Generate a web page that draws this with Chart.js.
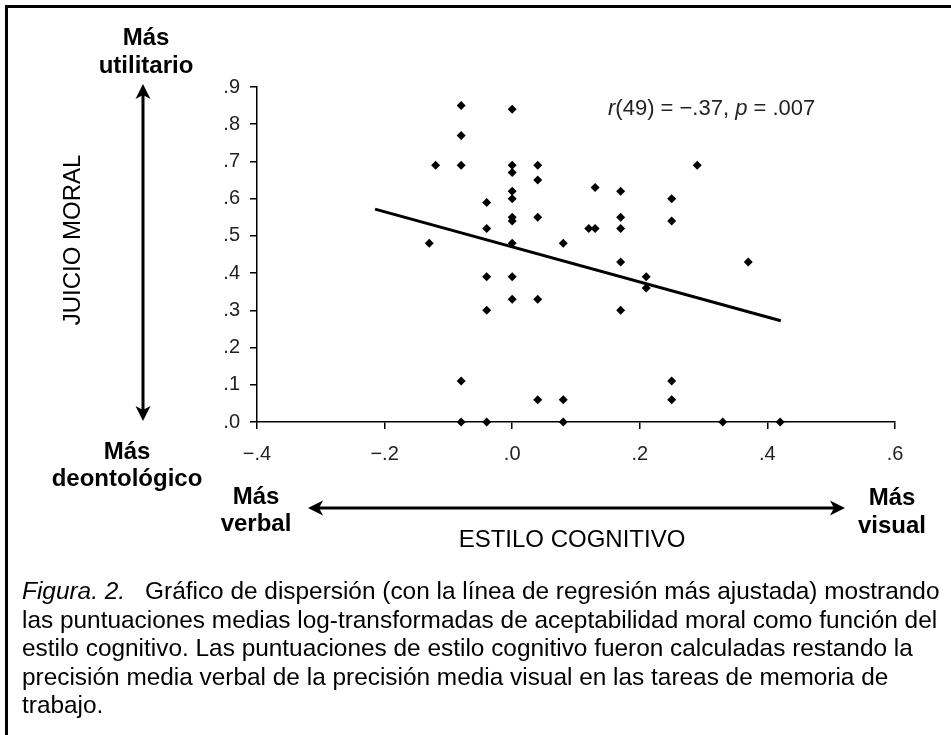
<!DOCTYPE html>
<html><head><meta charset="utf-8">
<script src="https://cdn.jsdelivr.net/npm/chart.js@4.4.0/dist/chart.umd.min.js"></script>
<style>
html,body{margin:0;padding:0;background:#fff;}
#wrap{position:relative;width:951px;height:735px;overflow:hidden;font-family:"Liberation Sans",Arial,sans-serif;color:#000;background:#fff;}
#chartBox{position:absolute;left:0;top:0;width:951px;height:735px;}
.t{position:absolute;white-space:nowrap;font-size:24px;}
.b{font-weight:bold;text-align:center;width:240px;}
</style></head>
<body>
<div id="wrap">
  <div id="chartBox"><canvas id="c"></canvas></div>
  <div style="position:absolute;left:5px;top:5px;width:960px;height:740px;border-left:3px solid #000;border-top:3px solid #000;"></div>
  <svg width="951" height="735" style="position:absolute;left:0;top:0;" xmlns="http://www.w3.org/2000/svg">
    <g fill="#000" stroke="none">
      <rect x="141.5" y="94" width="3" height="316"/>
      <polygon points="143,84 135.5,99 143,95 150.5,99"/>
      <polygon points="143,421 135.5,406 143,410 150.5,406"/>
      <rect x="318" y="506.5" width="517" height="3"/>
      <polygon points="308,508 323,500.5 319,508 323,515.5"/>
      <polygon points="845,508 830,500.5 834,508 830,515.5"/>
    </g>
  </svg>
  <div class="t b" style="left:26px;top:22.7px;line-height:28px;">Más<br>utilitario</div>
  <div class="t b" style="left:7px;top:436.5px;line-height:27px;">Más<br>deontológico</div>
  <div class="t b" style="left:136px;top:481.5px;line-height:27px;">Más<br>verbal</div>
  <div class="t b" style="left:772px;top:482.5px;line-height:28px;">Más<br>visual</div>
  <div class="t" style="left:422px;top:527px;width:300px;text-align:center;line-height:24px;">ESTILO COGNITIVO</div>
  <div class="t" style="left:-78px;top:228px;width:300px;text-align:center;line-height:24px;transform:rotate(-90deg);">JUICIO MORAL</div>
  <div class="t" style="left:608px;top:97.4px;font-size:22px;line-height:22px;color:#222;"><i>r</i>(49) = −.37, <i>p</i> = .007</div>
  <div class="t" style="left:22px;top:577px;font-size:24.4px;line-height:28.5px;">
    <i>Figura. 2.</i><span style="display:inline-block;width:20px;"></span>Gráfico de dispersión (con la línea de regresión más ajustada) mostrando<br>
    las puntuaciones medias log-transformadas de aceptabilidad moral como función del<br>
    estilo cognitivo. Las puntuaciones de estilo cognitivo fueron calculadas restando la<br>
    precisión media verbal de la precisión media visual en las tareas de memoria de<br>
    trabajo.
  </div>
</div>
<script>
// ---- data ----
const styleX = [-0.13,-0.12,-0.08,-0.08,-0.08,-0.08,-0.08,-0.04,-0.04,-0.04,-0.04,-0.04,0,0,0,0,0,0,0,0,0,0,0.04,0.04,0.04,0.04,0.04,0.08,0.08,0.08,0.12,0.13,0.13,0.17,0.17,0.17,0.17,0.17,0.21,0.21,0.25,0.25,0.25,0.25,0.29,0.33,0.37,0.42];
const moralY = [0.48,0.69,0.85,0.77,0.69,0.11,0,0.59,0.52,0.39,0.30,0,0.84,0.69,0.67,0.62,0.60,0.55,0.54,0.48,0.39,0.33,0.69,0.65,0.55,0.33,0.06,0.48,0.06,0,0.52,0.52,0.63,0.62,0.55,0.52,0.43,0.30,0.39,0.36,0.60,0.54,0.11,0.06,0.69,0,0.43,0];
const regLineX = [-0.215, 0.421];
const regLineY = [0.572, 0.272];
const xTickLabels = ['−.4','−.2','.0','.2','.4','.6'];
const yTickLabels = ['.0','.1','.2','.3','.4','.5','.6','.7','.8','.9'];

const points = styleX.map((x,i)=>({x:x, y:moralY[i]}));
const regPoints = regLineX.map((x,i)=>({x:x, y:regLineY[i]}));
const tickFont = {family:'"Liberation Sans", Arial, sans-serif', size:20};

new Chart(document.getElementById('c'), {
  type:'scatter',
  data:{datasets:[
    {type:'scatter', data:points, pointStyle:'rectRot', pointRadius:4.5, pointHoverRadius:4.5,
     backgroundColor:'#000', borderColor:'#000', borderWidth:0, clip:false},
    {type:'line', data:regPoints, borderColor:'#000', borderWidth:3, pointRadius:0,
     fill:false, tension:0, clip:false}
  ]},
  options:{
    responsive:true, maintainAspectRatio:false, animation:false, devicePixelRatio:1,
    layout:{padding:{left:197, right:56, top:87, bottom:263}},
    plugins:{legend:{display:false}, tooltip:{enabled:false}},
    events:[],
    scales:{
      x:{type:'linear', min:-0.4, max:0.6,
         ticks:{stepSize:0.2, autoSkip:false, maxRotation:0, color:'#222', font:tickFont, padding:13,
                callback:(v,i)=>xTickLabels[i]},
         grid:{display:true, drawOnChartArea:false, drawTicks:true, tickLength:7, color:'#000', lineWidth:1.5},
         border:{display:true, color:'#000', width:1.5},
         afterFit:(s)=>{s.height=50;}},
      y:{type:'linear', min:0, max:0.9,
         ticks:{stepSize:0.1, autoSkip:false, color:'#222', font:tickFont, padding:10,
                callback:(v,i)=>yTickLabels[i]},
         grid:{display:true, drawOnChartArea:false, drawTicks:true, tickLength:7, color:'#000', lineWidth:1.5},
         border:{display:true, color:'#000', width:1.5},
         afterFit:(s)=>{s.width=60;}}
    }
  }
});
</script>
</body></html>
